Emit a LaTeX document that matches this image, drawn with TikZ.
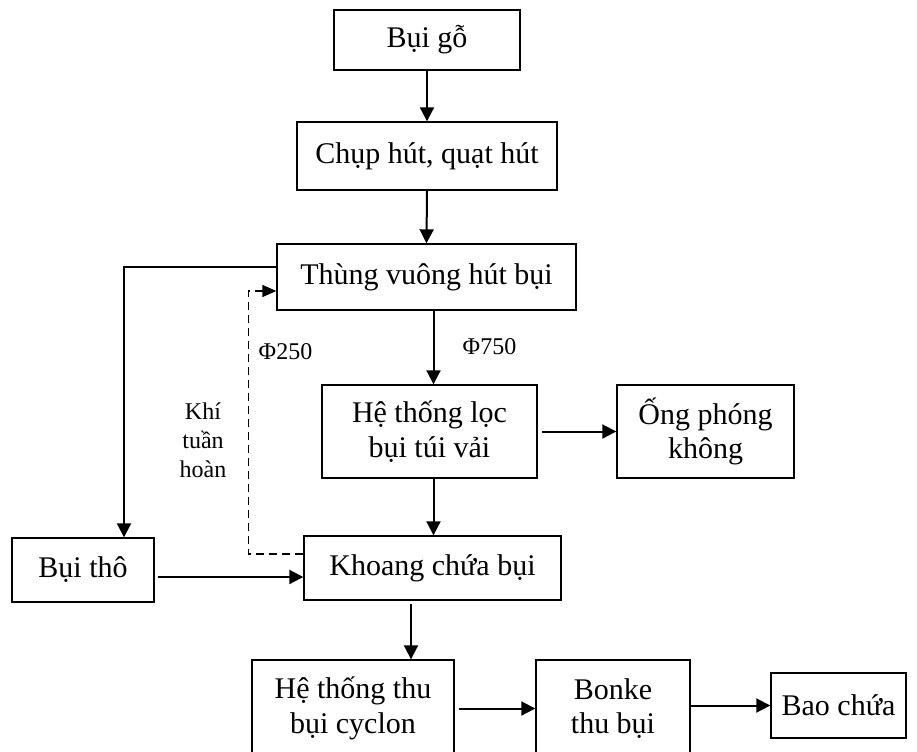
\documentclass[tikz,border=0pt]{standalone}
\usepackage{fontspec}
\setmainfont{Liberation Serif}
\usetikzlibrary{arrows.meta}
\begin{document}
\begin{tikzpicture}[x=0.5pt,y=-0.5pt,
  box/.style={draw,line width=0.7pt,inner sep=0pt,align=center,
    font=\fontsize{15}{17.25}\selectfont},
  flow/.style={line width=1pt,-{Triangle[length=7pt,width=7pt]}},
  note/.style={font=\fontsize{12}{14.5}\selectfont,align=center,inner sep=0pt},
  recirc/.style={line width=0.7pt,dash pattern=on 4pt off 2.5pt,
    -{Triangle[length=7pt,width=6pt]}}]
\useasboundingbox (0,0) rectangle (917,751);
\clip (0,0) rectangle (917,751);

% process boxes
\node[box,minimum width=93pt,minimum height=30pt] (bg) at (427,40) {Bụi gỗ};
\node[box,minimum width=130pt,minimum height=34pt] (chup) at (427,156) {Chụp hút, quạt hút};
\node[box,minimum width=149.5pt,minimum height=33pt] (thung) at (426.5,277) {Thùng vuông hút bụi};
\node[box,minimum width=107.5pt,minimum height=46.5pt] (loc) at (429.5,431.5) {Hệ thống lọc\\bụi túi vải};
\node[box,minimum width=88.5pt,minimum height=46.5pt] (ong) at (705.5,431.5) {Ống phóng\\không};
\node[box,minimum width=128.5pt,minimum height=32pt] (khoang) at (432.5,568) {Khoang chứa bụi};
\node[box,minimum width=71pt,minimum height=32pt] (tho) at (83,570) {Bụi thô};
\node[box,minimum width=101pt,minimum height=48.5pt] (cyc) at (353,708.5) {Hệ thống thu\\bụi cyclon};
\node[box,minimum width=77pt,minimum height=48.5pt] (bonke) at (613,708.5) {Bonke\\thu bụi};
\node[box,minimum width=67.5pt,minimum height=32.5pt] (bao) at (838.5,705.5) {Bao chứa};

% labels
\node[note] (p250) at (285.5,352) {Φ250};
\node[note] (p750) at (489.5,347) {Φ750};
\node[note] (khi) at (203,440) {Khí\\tuần\\hoàn};

% helper points on the box edges
\coordinate (c1) at ([xshift=2pt]loc.north);
\coordinate (c2) at ([xshift=-10.75pt]khoang.south);
\coordinate (c3) at ([yshift=-4.5pt]khoang.west);
\coordinate (c4) at ([xshift=1.5pt]tho.east);
\coordinate (c5) at ([yshift=5pt]thung.west);
\coordinate (c6) at ([xshift=20.5pt]tho.north);
\coordinate (c7) at ([yshift=7pt]khoang.west);
\coordinate (c8) at ([yshift=-7pt]thung.west);

% main flow
\draw[flow] (bg.south) -- (chup.north);
\draw[flow] (chup.south) -- (thung.north);
\draw[flow] (c1 |- thung.south) -- (c1);
\draw[flow] (c1 |- loc.south) -- (c1 |- khoang.north);
\draw[flow] ([xshift=2pt]loc.east) -- (ong.west);
\draw[flow] ([yshift=-1.5pt]c2) -- (c2 |- cyc.north);
\draw[flow] (c4 |- c3) -- (c3);
\draw[flow] ([xshift=2pt]cyc.east) -- (bonke.west);
\draw[flow] (bonke.east |- bao.west) -- (bao.west);
\draw[flow] (c5) -| (c6);

% recirculated air
\draw[recirc] (c7) -- ++(-55,0) |- (c8);
\end{tikzpicture}
\end{document}
